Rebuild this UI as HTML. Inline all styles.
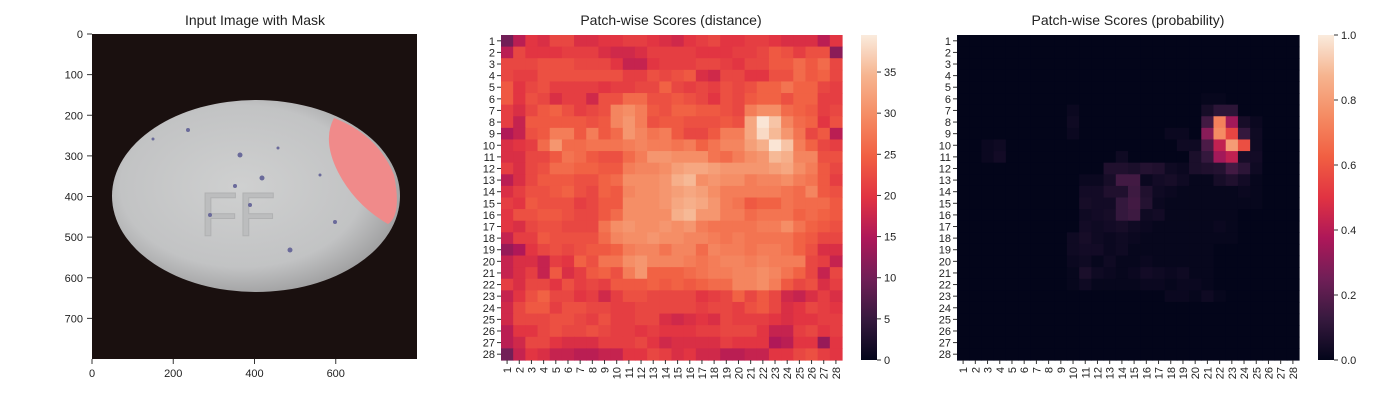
<!DOCTYPE html>
<html><head><meta charset="utf-8"><style>
body{margin:0;background:#fff;}
svg{display:block;font-family:"Liberation Sans",Arial,sans-serif;}
</style></head><body>
<svg id="fig" width="1400" height="400" viewBox="0 0 1400 400" xmlns="http://www.w3.org/2000/svg">
<defs>
<radialGradient id="pill" cx="45%" cy="45%" r="60%">
<stop offset="0" stop-color="#cfd0d0"/><stop offset="0.7" stop-color="#c2c3c4"/><stop offset="1" stop-color="#9a9a9b"/>
</radialGradient>
<clipPath id="pillclip"><ellipse cx="256" cy="196" rx="144" ry="96"/></clipPath>
<linearGradient id="cbD" x1="0" y1="1" x2="0" y2="0">
<stop offset="0" stop-color="#03051a"/><stop offset="0.125" stop-color="#36193e"/><stop offset="0.25" stop-color="#701f57"/><stop offset="0.375" stop-color="#ae1759"/><stop offset="0.5" stop-color="#e13342"/><stop offset="0.625" stop-color="#f15f42"/><stop offset="0.75" stop-color="#f58b63"/><stop offset="0.875" stop-color="#f6b48f"/><stop offset="1" stop-color="#faebdd"/>
</linearGradient>
</defs>
<g>
<text x="255" y="25" font-size="14" text-anchor="middle" fill="#222">Input Image with Mask</text>
<rect x="92" y="34" width="325" height="325" fill="#1a100f"/>
<ellipse cx="256" cy="196" rx="144" ry="96" fill="url(#pill)"/>
<g clip-path="url(#pillclip)">
<path d="M334 118 Q378 135 394 175 Q402 215 388 224 Q355 205 338 172 Q322 140 334 118Z" fill="#f08a8a"/>
</g>
<text x="200" y="236" font-size="62" fill="#bcbdbe" stroke="#b0b1b2">FF</text>
<g fill="#6a6a9a">
<circle cx="188" cy="130" r="2"/><circle cx="240" cy="155" r="2.5"/><circle cx="235" cy="186" r="2"/><circle cx="262" cy="178" r="2.5"/><circle cx="210" cy="215" r="2"/><circle cx="290" cy="250" r="2.5"/><circle cx="335" cy="222" r="2"/><circle cx="153" cy="139" r="1.5"/><circle cx="320" cy="175" r="1.5"/><circle cx="250" cy="205" r="2"/><circle cx="278" cy="148" r="1.5"/>
</g>
<g id="imgAxes"></g>
</g>
<g id="p2">
<text x="671" y="25" font-size="14" text-anchor="middle" fill="#222">Patch-wise Scores (distance)</text>
</g>
<g id="p3">
<text x="1128" y="25" font-size="14" text-anchor="middle" fill="#222">Patch-wise Scores (probability)</text>
</g>
</svg>
<script>
const distRows = [
[10,16,20,19,22,22,19,19,20,20,21,21,20,19,18,20,21,22,20,20,21,21,20,19,19,19,16,20],
[16,22,20,20,20,21,21,21,19,18,18,19,21,21,21,21,20,20,20,21,21,22,24,23,21,23,23,12],
[22,22,22,23,23,23,22,22,22,20,17,17,20,21,21,21,22,22,21,20,22,22,24,24,26,24,26,22],
[22,21,21,23,23,23,23,23,23,23,21,21,23,22,23,24,19,18,22,22,20,20,23,23,26,24,25,22],
[24,20,22,23,21,21,21,21,20,21,21,22,22,25,22,21,22,21,23,22,23,25,25,27,25,25,22,21],
[24,20,23,22,19,21,21,18,23,23,26,26,23,23,24,23,22,20,23,22,24,25,25,23,25,25,21,21],
[21,19,22,24,25,23,21,22,23,29,30,28,24,23,25,25,24,24,23,22,28,30,30,26,25,24,21,22],
[21,17,24,24,24,24,24,23,24,29,31,28,23,24,24,23,23,23,24,23,33,39,36,29,26,25,20,23],
[15,17,23,24,28,28,24,28,24,26,31,29,27,28,24,22,22,24,28,28,33,38,35,31,27,22,24,16],
[19,20,21,26,31,26,26,27,27,27,28,29,28,28,27,28,25,27,29,29,32,34,39,36,28,25,22,21],
[19,19,22,22,24,27,26,24,23,23,26,28,31,31,30,30,30,27,26,28,30,31,35,34,29,29,23,23],
[21,19,22,23,26,26,25,25,24,24,28,29,29,30,32,33,33,32,31,31,31,31,32,33,30,28,24,22],
[16,19,22,24,24,24,23,23,25,26,30,30,30,31,34,35,30,31,30,30,28,29,29,30,28,27,24,21],
[19,21,23,23,24,25,23,22,25,24,29,30,30,31,32,33,32,30,28,28,28,28,28,27,26,29,24,23],
[21,20,24,23,23,23,21,22,24,24,30,30,30,31,33,34,33,31,28,27,24,25,25,27,26,26,26,24],
[20,23,23,24,24,23,22,22,24,26,30,30,30,30,34,35,31,31,28,28,26,27,27,27,25,26,25,24],
[20,19,22,23,23,22,22,22,27,30,31,30,30,31,30,31,28,27,27,27,27,28,28,30,27,25,24,23],
[17,21,21,24,23,23,23,23,26,29,30,30,31,30,30,29,29,28,27,28,27,27,27,27,25,24,22,22],
[13,15,20,22,23,22,23,24,24,25,28,29,29,27,29,29,26,29,28,28,27,28,28,27,25,23,19,19],
[17,19,19,17,21,20,25,23,27,27,30,31,29,29,29,28,27,28,29,29,28,29,28,28,28,22,21,17],
[17,19,21,17,24,19,21,24,25,23,28,31,25,25,25,26,27,28,28,29,29,30,29,27,25,22,17,22],
[21,19,22,22,20,23,21,22,21,24,24,24,25,24,25,24,25,26,26,29,29,30,28,24,22,23,19,21],
[17,20,23,25,22,22,20,21,18,21,23,23,22,22,22,22,20,21,22,25,22,24,22,18,17,19,21,19],
[18,22,24,24,21,23,23,22,22,21,21,22,22,22,22,22,21,22,22,21,23,24,22,19,20,22,21,20],
[18,22,22,22,23,23,22,21,23,21,21,22,22,19,18,19,20,19,22,21,21,21,20,19,20,20,21,21],
[16,20,20,22,23,22,22,23,22,21,21,20,21,20,20,20,21,21,22,22,22,20,17,17,21,22,20,21],
[16,18,22,22,20,19,19,19,21,21,21,22,20,18,19,19,19,19,21,20,20,20,15,16,20,20,13,20],
[10,17,20,19,17,17,16,16,17,17,20,20,22,21,19,20,18,18,16,16,17,17,20,20,22,23,21,20]
];
const probRows = [
[0,0,0,0,0,0,0,0,0,0,0,0,0,0,0,0,0,0,0,0,0,0,0,0,0,0,0,0],
[0,0,0,0,0,0,0,0,0,0,0,0,0,0,0,0,0,0,0,0,0,0,0,0,0,0,0,0],
[0,0,0,0,0,0,0,0,0,0,0,0,0,0,0,0,0,0,0,0,0,0,0,0,0,0,0,0],
[0,0,0,0,0,0,0,0,0,0,0,0,0,0,0,0,0,0,0,0,0,0,0,0,0,0,0,0],
[0,0,0,0,0,0,0,0,0,0,0,0,0,0,0,0,0,0,0,0,0,0,0,0,0,0,0,0],
[0,0,0,0,0,0,0,0,0,0,0,0,0,0,0,0,0,0,0,0,0.01,0.01,0,0,0,0,0,0],
[0,0,0,0,0,0,0,0,0,0.02,0,0,0,0,0,0,0,0,0,0,0.05,0.1,0.1,0,0,0,0,0],
[0,0,0,0,0,0,0,0,0,0.03,0,0,0,0,0,0,0,0,0,0,0.15,0.72,0.35,0.05,0.02,0,0,0],
[0,0,0,0,0,0,0,0,0,0.02,0,0,0,0,0,0,0,0.02,0.02,0,0.3,0.75,0.55,0.12,0.03,0,0,0],
[0,0,0.02,0.03,0,0,0,0,0,0,0,0,0,0,0,0,0,0,0.03,0.03,0.17,0.42,0.8,0.58,0.03,0,0,0],
[0,0,0.02,0.04,0,0,0,0,0,0,0,0,0,0.03,0,0,0,0,0,0.06,0.12,0.35,0.42,0.05,0.04,0,0,0],
[0,0,0,0,0,0,0,0,0,0,0,0,0.07,0.07,0.06,0.08,0.07,0.03,0.02,0.06,0.07,0.08,0.15,0.1,0.03,0,0,0],
[0,0,0,0,0,0,0,0,0,0,0.02,0.02,0.05,0.15,0.15,0.02,0.04,0.05,0.03,0.01,0.01,0.05,0.07,0.04,0.01,0,0,0],
[0,0,0,0,0,0,0,0,0,0,0.04,0.04,0.07,0.07,0.14,0.07,0.03,0.02,0.01,0.01,0.01,0.01,0.01,0.02,0.01,0,0,0],
[0,0,0,0,0,0,0,0,0,0,0.05,0.04,0.04,0.12,0.15,0.08,0.02,0.01,0.01,0.01,0.01,0.01,0.01,0.01,0.01,0,0,0],
[0,0,0,0,0,0,0,0,0,0,0.03,0.04,0.05,0.12,0.14,0.03,0.04,0.01,0.01,0.01,0.01,0.01,0.01,0,0,0,0,0],
[0,0,0,0,0,0,0,0,0,0,0.04,0.03,0.04,0.05,0.03,0.02,0.01,0.01,0.01,0.01,0.01,0.02,0.01,0,0,0,0,0],
[0,0,0,0,0,0,0,0,0,0.03,0.05,0.03,0.02,0.03,0.02,0.01,0.01,0.01,0.01,0.01,0.01,0.01,0.01,0,0,0,0,0],
[0,0,0,0,0,0,0,0,0,0.03,0.04,0.04,0.02,0.03,0.01,0.01,0.01,0.01,0.01,0.01,0.01,0,0,0,0,0,0,0],
[0,0,0,0,0,0,0,0,0,0.02,0.03,0.01,0.03,0.01,0.01,0.02,0.01,0.01,0.01,0.01,0.01,0,0,0,0,0,0,0],
[0,0,0,0,0,0,0,0,0,0.01,0.06,0.03,0.02,0.01,0.02,0.04,0.03,0.02,0.03,0.01,0.01,0,0,0,0,0,0,0],
[0,0,0,0,0,0,0,0,0,0.01,0.03,0.01,0.01,0.01,0.01,0.02,0.02,0.01,0.02,0.02,0.01,0,0,0,0,0,0,0],
[0,0,0,0,0,0,0,0,0,0,0,0,0,0,0,0,0,0.02,0.02,0.01,0.03,0.01,0,0,0,0,0,0],
[0,0,0,0,0,0,0,0,0,0,0,0,0,0,0,0,0,0,0,0,0,0,0,0,0,0,0,0],
[0,0,0,0,0,0,0,0,0,0,0,0,0,0,0,0,0,0,0,0,0,0,0,0,0,0,0,0],
[0,0,0,0,0,0,0,0,0,0,0,0,0,0,0,0,0,0,0,0,0,0,0,0,0,0,0,0],
[0,0,0,0,0,0,0,0,0,0,0,0,0,0,0,0,0,0,0,0,0,0,0,0,0,0,0,0],
[0,0,0,0,0,0,0,0,0,0,0,0,0,0,0,0,0,0,0,0,0,0,0,0,0,0,0,0]
];
const tickLabels = Array.from({length:28},(_,i)=>String(i+1));
const imgXTicks = [0,200,400,600];
const imgYTicks = [0,100,200,300,400,500,600,700];
const distCbTicks = [0,5,10,15,20,25,30,35];
const probCbTicks = [0,0.2,0.4,0.6,0.8,1.0];
const distMin = 0, distMax = 39.5, probMin = 0, probMax = 1;

const NS="http://www.w3.org/2000/svg";
const stopPos=[0,0.125,0.25,0.375,0.5,0.625,0.75,0.875,1];
const stops=["#03051a","#36193e","#701f57","#ae1759","#e13342","#f15f42","#f58b63","#f6b48f","#faebdd"];
function hex(h){return [1,3,5].map(i=>parseInt(h.substr(i,2),16));}
const stopRGB=stops.map(hex);
function cmap(t){t=Math.max(0,Math.min(1,t));let i=0;while(i<stopPos.length-2&&t>stopPos[i+1])i++;
 const f=(t-stopPos[i])/(stopPos[i+1]-stopPos[i]);
 const a=stopRGB[i],b=stopRGB[i+1];return `rgb(${a.map((v,k)=>Math.round(v+(b[k]-v)*f)).join(',')})`;}
function el(tag,attrs,parent,text){const e=document.createElementNS(NS,tag);for(const k in attrs)e.setAttribute(k,attrs[k]);if(text!==undefined)e.textContent=text;parent.appendChild(e);return e;}

const ia=document.getElementById('imgAxes');
const ix=v=>92+v*325/800, iy=v=>34+v*325/800;
imgXTicks.forEach(v=>{
 const l=el('line',{x1:ix(v),x2:ix(v),y1:359,y2:364,stroke:'#333'},ia);
 
 
 const t=el('text',{x:ix(v),y:377,'font-size':11,'text-anchor':'middle',fill:'#222'},ia,String(v));
 
 
});
imgYTicks.forEach(v=>{
 const l=el('line',{x1:87,x2:92,y1:iy(v),y2:iy(v),stroke:'#333'},ia);
 
 
 const t=el('text',{x:83,y:iy(v)+4,'font-size':11,'text-anchor':'end',fill:'#222'},ia,String(v));
 
 
});

function heatmap(gid,rows,vmin,vmax,x0,y0,w,h,cbx,cbTicks,cbName,fmt){
 const g=document.getElementById(gid);
 const cw=w/28,ch=h/28;
 const xs=c=>x0+c*cw, ys=r=>y0+r*ch;
 rows.forEach((row,r)=>row.forEach((v,c)=>{
  const rc=el('rect',{x:xs(c),y:ys(r),width:cw+0.6,height:ch+0.6,fill:cmap((v-vmin)/(vmax-vmin))},g);
  
  
 }));
 tickLabels.forEach((lab,i)=>{
  const yc=ys(i)+ch/2, xc=xs(i)+cw/2;
  el('line',{x1:x0-4,x2:x0,y1:yc,y2:yc,stroke:'#333'},g);
  const t=el('text',{x:x0-6,y:yc+4,'font-size':11,'text-anchor':'end',fill:'#222'},g,lab);
  
  
  el('line',{x1:xc,x2:xc,y1:y0+h,y2:y0+h+4,stroke:'#333'},g);
  const t2=el('text',{x:0,y:0,'font-size':11,'text-anchor':'end',fill:'#222',transform:`translate(${xc+4},${y0+h+7}) rotate(-90)`},g,lab);
  
  
 });
 const cb=el('rect',{x:cbx,y:y0,width:16,height:h,fill:'url(#cbD)'},g);
 
 
 cbTicks.forEach(v=>{
  const y=y0+h-(v-vmin)/(vmax-vmin)*h;
  el('line',{x1:cbx+16,x2:cbx+20,y1:y,y2:y,stroke:'#333'},g);
  const t=el('text',{x:cbx+23,y:y+4,'font-size':11,fill:'#222'},g,fmt(v));
  
  
 });
}
heatmap('p2',distRows,distMin,distMax,501,35,341,325,861,distCbTicks,'distance-colorbar',v=>String(v));
heatmap('p3',probRows,probMin,probMax,957,35,342,325,1318,probCbTicks,'probability-colorbar',v=>v.toFixed(1));
</script>
</body></html>
